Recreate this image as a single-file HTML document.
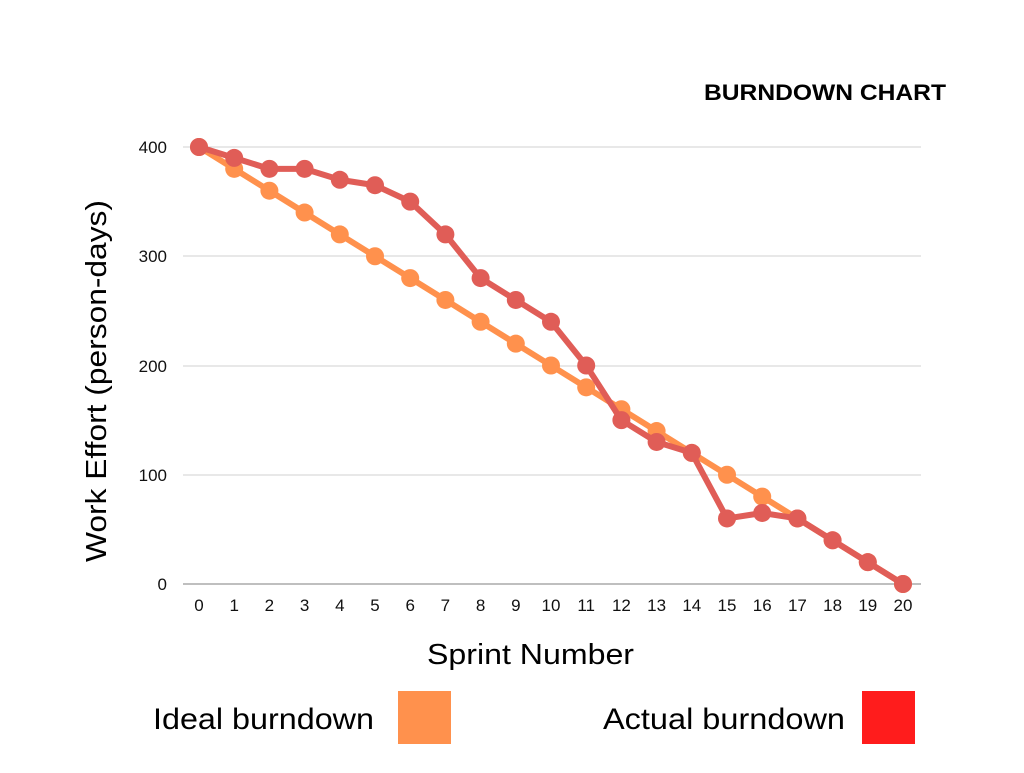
<!DOCTYPE html>
<html><head><style>body{margin:0;background:#fff}</style></head><body>
<svg width="1024" height="768" xmlns="http://www.w3.org/2000/svg" font-family="Liberation Sans, sans-serif">
<rect width="1024" height="768" fill="#fff"/>
<text x="704" y="100" font-size="22" font-weight="bold" fill="#000" textLength="242" lengthAdjust="spacingAndGlyphs">BURNDOWN CHART</text>
<g stroke="#d0d0d0" stroke-width="1">
<line x1="183" x2="921" y1="147" y2="147"/><line x1="183" x2="921" y1="256" y2="256"/>
<line x1="183" x2="921" y1="366" y2="366"/><line x1="183" x2="921" y1="475" y2="475"/>
</g>
<line x1="183" x2="921" y1="584" y2="584" stroke="#aaa" stroke-width="1.5"/>
<g font-size="17" fill="#111" text-anchor="end">
<text x="167" y="153">400</text><text x="167" y="262">300</text><text x="167" y="372">200</text><text x="167" y="481">100</text><text x="167" y="590">0</text>
</g>
<g font-size="17" fill="#111" text-anchor="middle" id="xt"></g>
<text x="427" y="664" font-size="29" fill="#000" textLength="207" lengthAdjust="spacingAndGlyphs">Sprint Number</text>
<text transform="translate(106,562) rotate(-90)" font-size="29" fill="#000" textLength="362" lengthAdjust="spacingAndGlyphs">Work Effort (person-days)</text>
<g id="ser"></g>
<text x="153" y="729" font-size="30" fill="#000" textLength="221" lengthAdjust="spacingAndGlyphs">Ideal burndown</text>
<rect x="398" y="691" width="53" height="53" fill="#FF914D"/>
<text x="603" y="729" font-size="30" fill="#000" textLength="242" lengthAdjust="spacingAndGlyphs">Actual burndown</text>
<rect x="862" y="691" width="53" height="53" fill="#FF1C1C"/>
<script>
var ns="http://www.w3.org/2000/svg";
function X(i){return 199+i*35.2}function Y(v){return 584-v*1.0925}
var xt=document.getElementById("xt");
for(var i=0;i<=20;i++){var t=document.createElementNS(ns,"text");t.setAttribute("x",X(i));t.setAttribute("y",611);t.textContent=i;xt.appendChild(t);}
var ideal=[],act=[400,390,380,380,370,365,350,320,280,260,240,200,150,130,120,60,65,60,40,20,0];
for(i=0;i<=20;i++)ideal.push(400-20*i);
var g=document.getElementById("ser");
function draw(d,c){var p="";d.forEach(function(v,i){p+=(i?"L":"M")+X(i)+","+Y(v)});
var pl=document.createElementNS(ns,"path");pl.setAttribute("d",p);pl.setAttribute("fill","none");pl.setAttribute("stroke",c);pl.setAttribute("stroke-width","6");pl.setAttribute("stroke-linejoin","round");g.appendChild(pl);
d.forEach(function(v,i){var ci=document.createElementNS(ns,"circle");ci.setAttribute("cx",X(i));ci.setAttribute("cy",Y(v));ci.setAttribute("r","9");ci.setAttribute("fill",c);g.appendChild(ci);});}
draw(ideal,"#FF914D");draw(act,"#E05D57");
</script>
</svg>
</body></html>
